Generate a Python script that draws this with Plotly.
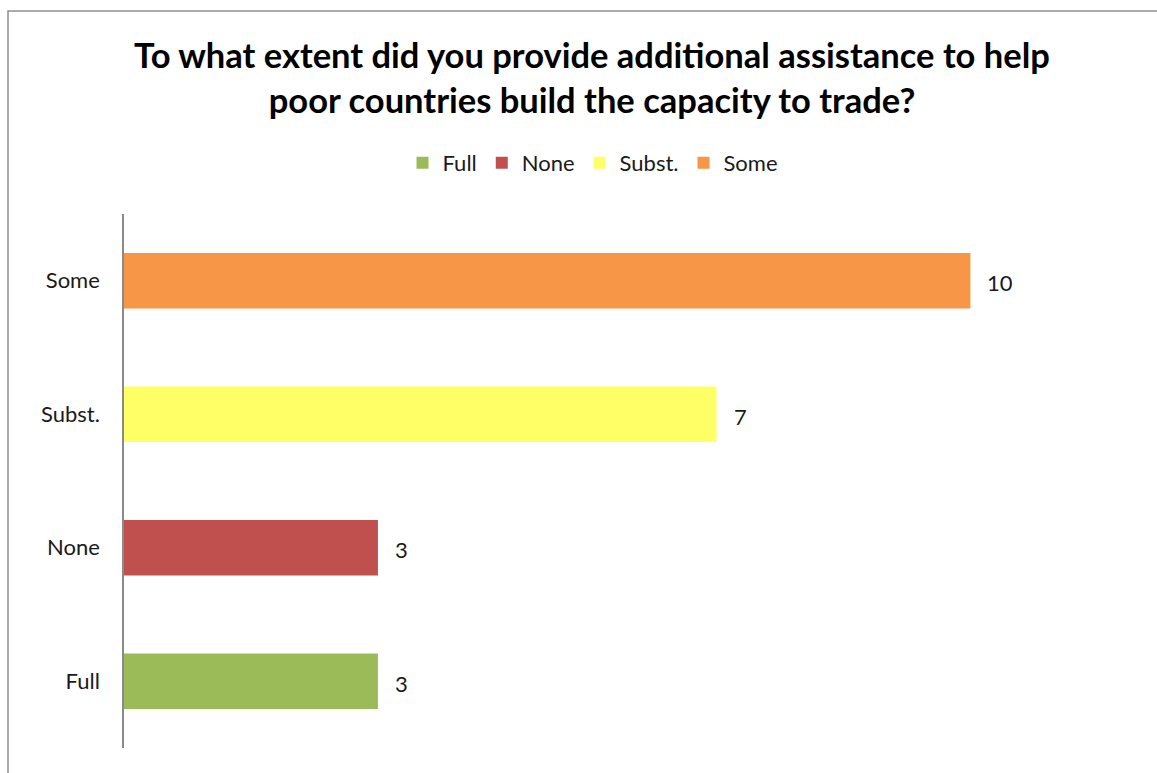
import plotly.graph_objects as go

categories = ["Full", "None", "Subst.", "Some"]
values = [3, 3, 7, 10]
colors = ["#9BBB59", "#C0504D", "#FFFF66", "#F79646"]

W, H = 1157, 773
ML, MR, MT, MB = 124, 85, 214, 25
XMAX = 11.2
pw = W - ML - MR
ph = H - MT - MB

fig = go.Figure()
for cat, val, col in zip(categories, values, colors):
    fig.add_trace(go.Bar(
        x=[val], y=[cat], name=cat, orientation="h",
        marker=dict(color=col, line=dict(width=0)),
        width=0.415, hoverinfo="x+y",
    ))
    fig.add_annotation(
        x=val, y=cat, xref="x", yref="y", text=str(val),
        showarrow=False, xanchor="left", xshift=15, yshift=-2,
        font=dict(size=22, color="#1a1a1a"),
    )

def px_x(p):
    return (p - ML) / pw

def px_y(p):
    return (H - MB - p) / ph

# outer chart border
fig.add_shape(type="rect", xref="paper", yref="paper",
              x0=px_x(8), x1=px_x(W + 20), y0=px_y(H + 20), y1=px_y(11),
              line=dict(color="#8E8E8E", width=1.5), fillcolor="rgba(0,0,0,0)",
              layer="below")

fig.update_layout(
    width=W, height=H,
    margin=dict(l=ML, r=MR, t=MT, b=MB, pad=0),
    paper_bgcolor="white", plot_bgcolor="white",
    barmode="overlay",
    font=dict(family="Lato, Open Sans, sans-serif", color="#1a1a1a", size=22),
    title=dict(
        text="To what extent did you provide additional assistance to help<br>poor countries build the capacity to trade?",
        x=px_x(592), xref="paper", xanchor="center",
        y=1 - 68 / H, yref="container", yanchor="middle",
        font=dict(size=34.5, family="Lato, Open Sans, sans-serif", color="#000000", weight="bold"),
    ),
    showlegend=True,
    legend=dict(
        orientation="h", x=px_x(593), xanchor="center",
        y=px_y(163), yanchor="middle",
        font=dict(size=22), traceorder="normal",
        itemwidth=30, itemclick=False,
    ),
    xaxis=dict(range=[0, XMAX], visible=False, showgrid=False, zeroline=False),
    yaxis=dict(
        categoryorder="array", categoryarray=categories,
        showline=True, linecolor="#8A8A8A", linewidth=1.5,
        showgrid=False, zeroline=False, ticks="", ticklabelstandoff=18,
        tickfont=dict(size=22, color="#1a1a1a"),
    ),
)

fig.write_html("out.html")
